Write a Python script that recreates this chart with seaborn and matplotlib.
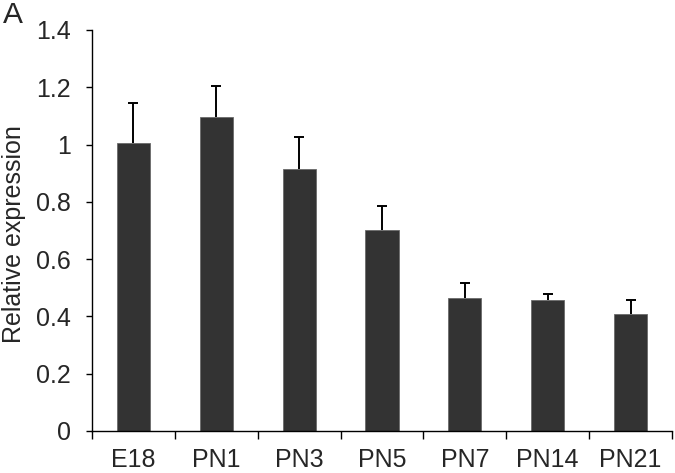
import matplotlib
matplotlib.use('Agg')
import matplotlib.pyplot as plt
import seaborn as sns
import numpy as np
import pandas as pd

stages = ['E18', 'PN1', 'PN3', 'PN5', 'PN7', 'PN14', 'PN21']
expression = [1.007, 1.096, 0.913, 0.701, 0.464, 0.458, 0.408]
sem = [0.138, 0.108, 0.113, 0.084, 0.051, 0.019, 0.049]
y_ticks = [0, 0.2, 0.4, 0.6, 0.8, 1.0, 1.2, 1.4]
y_ticklabels = ['0', '0.2', '0.4', '0.6', '0.8', '1', '1.2', '1.4']

df = pd.DataFrame({'stage': stages, 'expression': expression, 'sem': sem})

sns.set_style('white')
plt.rcParams['font.family'] = ['Liberation Sans', 'DejaVu Sans']

fig = plt.figure(figsize=(6.75, 4.73), dpi=100, facecolor='white')
ax = fig.add_axes([0.1363, 0.0888, 0.8593, 0.8478])

sns.barplot(data=df, x='stage', y='expression', color='#333333', width=0.4,
            saturation=1, edgecolor='#6a6a6a', linewidth=0.6, errorbar=None, ax=ax)

# upper-only error bars at the bar centres
centres = [p.get_x() + p.get_width() / 2 for p in ax.patches]
_, caps, _ = ax.errorbar(centres, df['expression'], yerr=[np.zeros(len(df)), df['sem']],
                         fmt='none', ecolor='black', elinewidth=1.4, capsize=3.4, capthick=1.4)
caps[0].set_visible(False)

ax.set_ylim(0, 1.4)
ax.set_xlim(-0.5, len(stages) - 0.5)
ax.set_yticks(y_ticks)
ax.set_yticklabels(y_ticklabels)
ax.set_xticks(range(len(stages)))
ax.set_xticklabels(stages)
ax.set_xticks(np.arange(-0.5, len(stages)), minor=True)

ax.tick_params(axis='y', which='major', direction='out', length=4.5, width=1,
               color='black', labelsize=18, pad=10.5, left=True)
ax.tick_params(axis='x', which='major', length=0, labelsize=18, pad=12)
ax.tick_params(axis='x', which='minor', direction='out', length=5.8, width=1,
               color='black', bottom=True)

for side in ['top', 'right']:
    ax.spines[side].set_visible(False)
for side in ['left', 'bottom']:
    ax.spines[side].set_color('black')
    ax.spines[side].set_linewidth(1)

ax.set_xlabel('')
ax.set_ylabel('Relative expression', fontsize=18)
ax.yaxis.set_label_coords(-0.1145, 0.49)
fig.text(0.004, 0.997, 'A', fontsize=21.5, va='top', ha='left')

plt.savefig('out.png', dpi=100, facecolor='white')
plt.close()
